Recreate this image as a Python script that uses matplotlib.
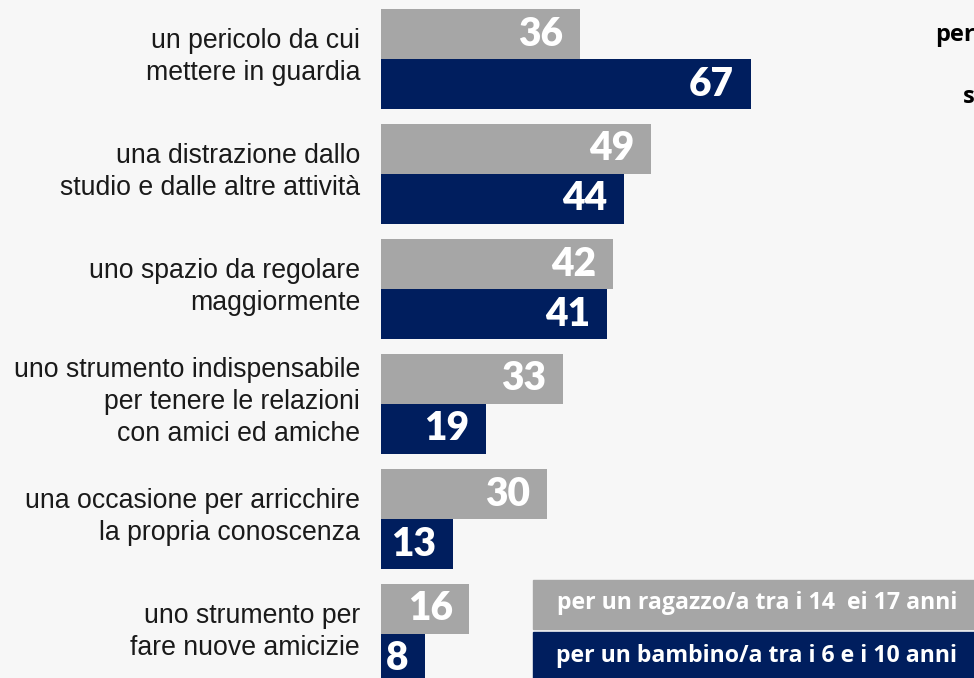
import matplotlib.pyplot as plt
from matplotlib.patches import Rectangle

categories = [
    "un pericolo da cui\nmettere in guardia",
    "una distrazione dallo\nstudio e dalle altre attività",
    "uno spazio da regolare\nmaggiormente",
    "uno strumento indispensabile\nper tenere le relazioni\ncon amici ed amiche",
    "una occasione per arricchire\nla propria conoscenza",
    "uno strumento per\nfare nuove amicizie",
]
ragazzi = [36, 49, 42, 33, 30, 16]
bambini = [67, 44, 41, 19, 13, 8]
series_labels = [
    "per un ragazzo/a tra i 14  ei 17 anni",
    "per un bambino/a tra i 6 e i 10 anni",
]

GRAY = "#a6a6a6"
NAVY = "#001e5e"
BG = "#f7f7f7"

W, H = 974, 678
fig = plt.figure(figsize=(W / 100, H / 100), dpi=100, facecolor=BG)

# axes in pixel-derived coordinates: bars start at x=381
px_per_unit = 5.52
step = 115.0
ax = fig.add_axes([381 / W, 0, 1 - 381 / W, 1])
ax.set_facecolor(BG)
ax.set_xlim(0, (W - 381) / px_per_unit)
ax.set_ylim(H / step, 0)
ax.axis("off")

bar_h = 50 / step
off_g = 34 / step
off_n = 84 / step
num_font = dict(family="Lato", fontweight="heavy", fontsize=28, color="white")

for i, (cat, g, n) in enumerate(zip(categories, ragazzi, bambini)):
    ax.barh(i + off_g, g, height=bar_h, color=GRAY, left=0)
    ax.barh(i + off_n, n, height=bar_h, color=NAVY, left=0)
    ax.annotate(str(g), (g, i + off_g), xytext=(-12, 0), textcoords="offset points",
                ha="right", va="center", **num_font)
    ax.annotate(str(n), (n, i + off_n), xytext=(-12, 0), textcoords="offset points",
                ha="right", va="center", **num_font)
    fig.text(360 / W, 1 - (57 + step * i) / H, cat, ha="right", va="center",
             fontsize=19.2, family="Liberation Sans", color="#1a1a1a", linespacing=1.28)

# legend boxes at bottom right
fig.patches.append(Rectangle((533 / W, 1 - 629 / H), (W - 533) / W, 49 / H,
                             transform=fig.transFigure, color=GRAY, zorder=5))
fig.patches.append(Rectangle((533 / W, 0), (W - 533) / W, 46 / H,
                             transform=fig.transFigure, color=NAVY, zorder=5))
fig.text(757 / W, 1 - 603 / H, series_labels[0], ha="center", va="center",
         color="white", fontsize=16.7, family="Open Sans", fontweight="bold", zorder=6)
fig.text(757 / W, 1 - 656 / H, series_labels[1], ha="center", va="center",
         color="white", fontsize=16.7, family="Open Sans", fontweight="bold", zorder=6)

# clipped title fragments at top right
fig.text(935 / W, 1 - 35 / H, "per", ha="left", va="center", fontsize=17,
         family="Open Sans", fontweight="bold", color="black")
fig.text(963 / W, 1 - 97 / H, "s", ha="left", va="center", fontsize=17,
         family="Open Sans", fontweight="bold", color="black")

fig.savefig("out.png", dpi=100, facecolor=BG)
